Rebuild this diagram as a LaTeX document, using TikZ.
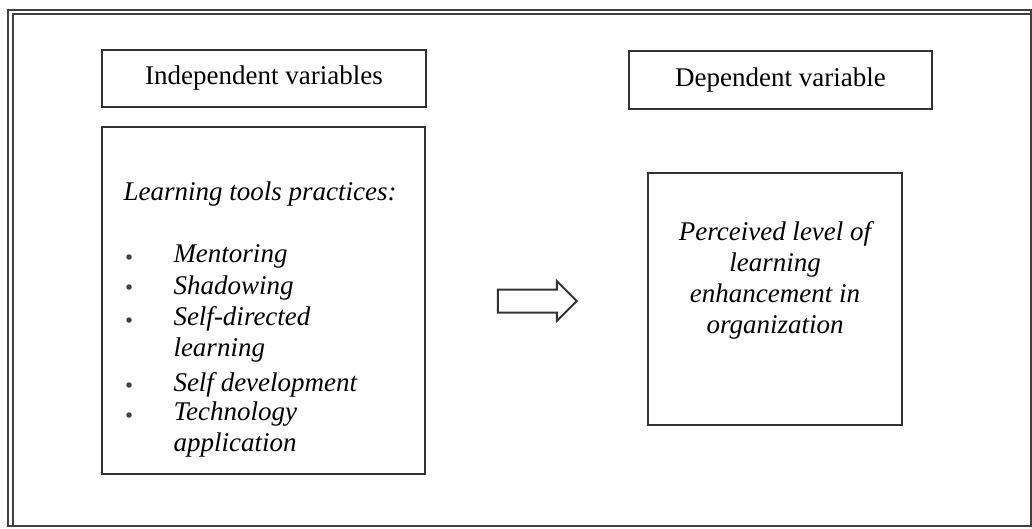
\documentclass[tikz,border=0pt]{standalone}
\usepackage{fontspec}
\setmainfont{Liberation Serif}
\usetikzlibrary{shapes.arrows}
\newcommand{\diagfont}{\fontsize{10.8}{12.4}\selectfont}

\begin{document}
\begin{tikzpicture}[x=0.4pt,y=-0.4pt,
  varbox/.style={draw=black!80, line width=0.8pt, inner sep=0pt, font=\diagfont},
  item/.style={anchor=base west, inner sep=0pt, font=\diagfont\itshape, align=left},
  dot/.style={circle, fill=black!75, inner sep=0pt, minimum size=2.2pt}]
  \useasboundingbox (0,0) rectangle (1032,528);
  % outer frame
  \draw[black!75, line width=0.6pt] (8,10) rectangle (1031,526);
  \draw[black!75, line width=0.6pt] (13,526) |- (1031,14);

  \node[varbox, minimum width=129.6pt, minimum height=22.8pt] (indep) at (264,78.5) {Independent variables};
  \node[varbox, minimum width=121.2pt, minimum height=23.2pt] (dep) at (780.5,80) {Dependent variable};
  \node[varbox, minimum width=129.2pt, minimum height=138.8pt] (tools) at (263.5,300.5) {};
  \node[varbox, minimum width=101.6pt, minimum height=100.8pt] (perc) at (775,299) {};

  % block arrow
  \node[single arrow, draw=black!80, line width=0.8pt, minimum height=31.6pt,
        inner xsep=0pt, inner ysep=4.2pt, single arrow head extend=3.4pt] (link) at (531.5,301) {};

  % list of practices (multi-line items sit on their last baseline)
  \node[item] (head) at (123,200) {Learning tools practices:};
  \foreach \y [count=\i] in {257,287,320,385,415}
    \node[dot] (b\i) at (129,\y) {};
  \node[item] (i1) at (173,262) {Mentoring};
  \node[item] (i2) at (173,294) {Shadowing};
  \node[item] (i3) at (173,356) {Self-directed\\learning};
  \node[item] (i4) at (173,391) {Self development};
  \node[item] (i5) at (173,451) {Technology\\application};

  \node[font=\diagfont\itshape, align=center, inner sep=0pt] (ptext) at (775,280)
    {Perceived level of\\learning\\enhancement in\\organization};
\end{tikzpicture}
\end{document}
